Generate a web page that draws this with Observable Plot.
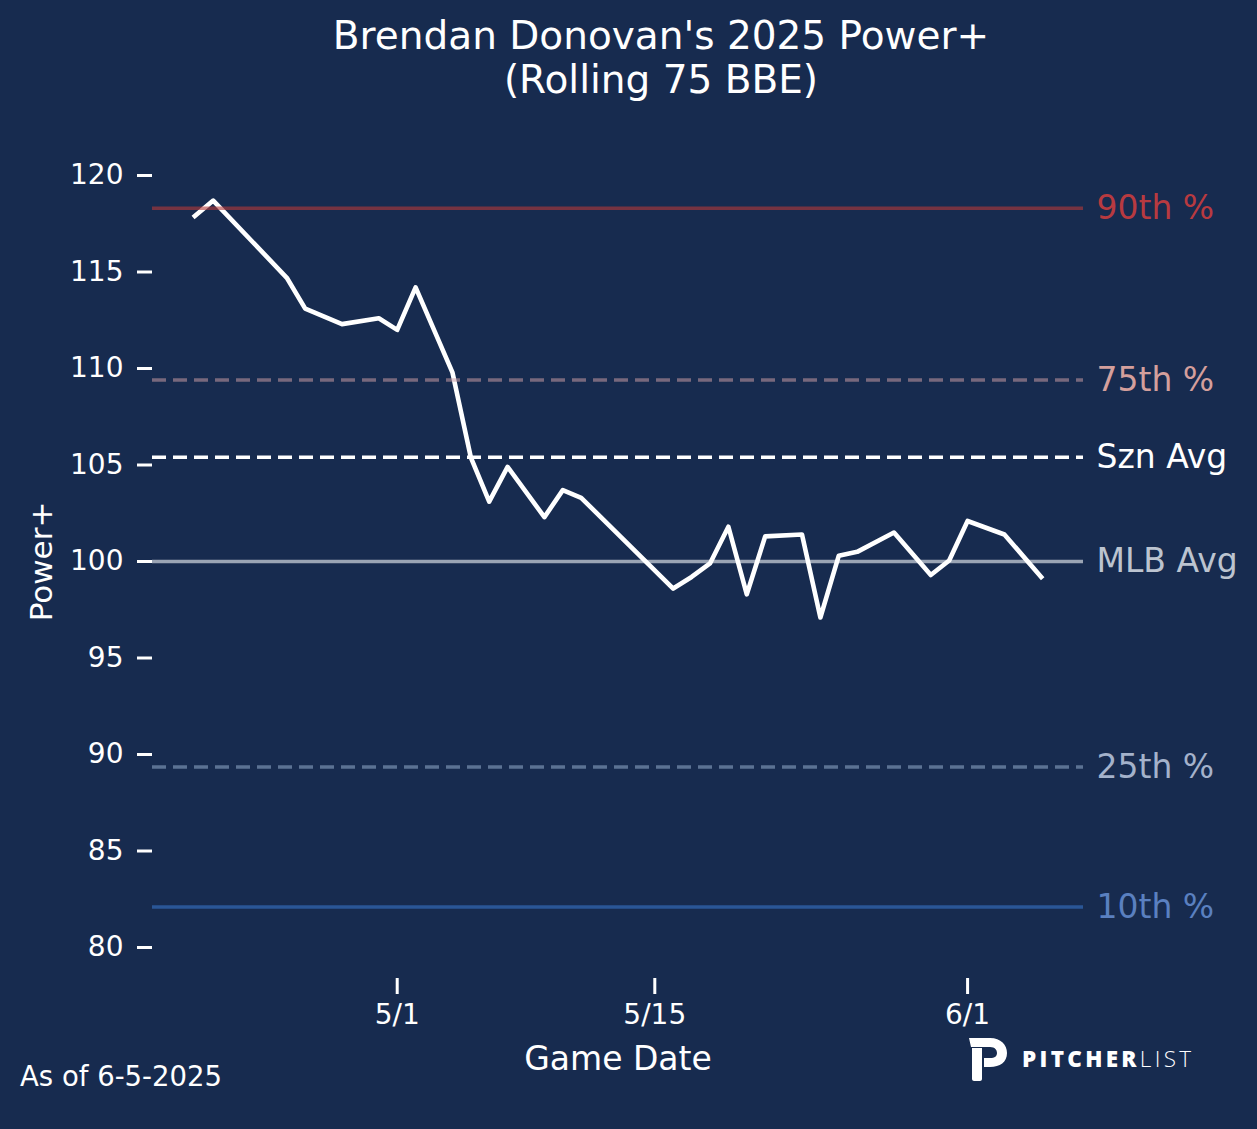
<!DOCTYPE html>
<html>
<head>
<meta charset="utf-8">
<script src="https://cdn.jsdelivr.net/npm/d3@7"></script>
<script src="https://cdn.jsdelivr.net/npm/@observablehq/plot@0.6"></script>
<style>
  html, body { margin: 0; padding: 0; background: #172b4f; }
  #wrap { position: relative; width: 1257px; height: 1129px; background: #172b4f; overflow: hidden; font-family: "DejaVu Sans", sans-serif; }
  #title { position: absolute; left: 161px; width: 1000px; top: 14px; text-align: center; color: #ffffff; font-size: 39px; line-height: 44px; }
  #head { height: 110px; }
  #asof { position: absolute; left: 20px; top: 1063px; color: #ffffff; font-size: 27.5px; line-height: 27.5px; }
  #logo { position: absolute; left: 968px; top: 1037px; }
  #brand { position: absolute; left: 1022px; top: 1048px; color: #ffffff; font-family: "Open Sans", sans-serif; font-size: 22.5px; line-height: 22px; letter-spacing: 3.3px; white-space: nowrap; }
</style>
</head>
<body>
<div id="wrap">
  <div id="head"></div>
  <div id="title">Brendan Donovan's 2025 Power+<br>(Rolling 75 BBE)</div>
  <div id="chart"></div>
  <div id="asof">As of 6-5-2025</div>
  <svg id="logo" width="42" height="46" viewBox="0 0 42 46">
    <path d="M1 1 H22 C33 1 39 8 39 16 C39 25 32 30 22 30 H16 V21 H22 C27 21 29 19 29 16 C29 13 27 10 22 10 H3 Z" fill="#ffffff"/>
    <path d="M4 11 H14 V42 C14 43 13 44 12 44 H6 C5 44 4 43 4 42 Z" fill="#ffffff"/>
  </svg>
  <div id="brand"><span style="font-weight:800">PITCHER</span><span style="font-weight:300">LIST</span></div>
</div>
<script>
// ---- data ----
const gameDates = [
  "2025-04-20","2025-04-21","2025-04-25","2025-04-26","2025-04-28","2025-04-30",
  "2025-05-01","2025-05-02","2025-05-04","2025-05-05","2025-05-06","2025-05-07",
  "2025-05-09","2025-05-10","2025-05-11","2025-05-16","2025-05-17","2025-05-18",
  "2025-05-19","2025-05-20","2025-05-21","2025-05-23","2025-05-24","2025-05-25",
  "2025-05-26","2025-05-28","2025-05-30","2025-05-31","2025-06-01","2025-06-03",
  "2025-06-05"
];
const powerPlus = [
  117.9, 118.7, 114.7, 113.1, 112.3, 112.6,
  112.0, 114.2, 109.8, 105.4, 103.1, 104.9,
  102.3, 103.7, 103.3, 98.6, 99.2, 99.9,
  101.8, 98.3, 101.3, 101.4, 97.1, 100.3,
  100.5, 101.5, 99.3, 100.05, 102.1, 101.4,
  99.2
];
const refLabels = ["90th %", "75th %", "Szn Avg", "MLB Avg", "25th %", "10th %"];
const refValues = [118.3, 109.4, 105.4, 100, 89.35, 82.1];
const yTicks = [80, 85, 90, 95, 100, 105, 110, 115, 120];
const xTickDates = ["2025-05-01", "2025-05-15", "2025-06-01"];

// ---- styles (not data) ----
const refStyle = {
  "90th %":  {stroke: "#b53838", opacity: 0.6, dash: null,   text: "#b83a40"},
  "75th %":  {stroke: "#c99aa4", opacity: 0.55, dash: "14,7", text: "#d49f9c"},
  "Szn Avg": {stroke: "#ffffff", opacity: 1,   dash: "14,7", text: "#ffffff"},
  "MLB Avg": {stroke: "#9aa4b4", opacity: 1,   dash: null,   text: "#bcc4d0"},
  "25th %":  {stroke: "#5b7293", opacity: 1,   dash: "14,7", text: "#a4b2cb"},
  "10th %":  {stroke: "#2a5696", opacity: 1,   dash: null,   text: "#5a80c0"}
};

const series = gameDates.map((d, i) => ({date: new Date(d), value: powerPlus[i]}));
const refs = refLabels.map((l, i) => ({label: l, value: refValues[i]}));

const first = d3.min(series, d => d.date), last = d3.max(series, d => d.date);
const pad = (last - first) * 0.05;

const ruleMark = (lab) => {
  const s = refStyle[lab];
  return Plot.ruleY(refs.filter(r => r.label === lab), {
    y: "value", stroke: s.stroke, strokeOpacity: s.opacity, strokeWidth: 3.5,
    strokeDasharray: s.dash
  });
};

const chart = Plot.plot({
  width: 1257,
  height: 1019,
  marginLeft: 152,
  marginRight: 174,
  marginTop: 34,
  marginBottom: 151,
  style: {background: "transparent", color: "#ffffff", fontFamily: "DejaVu Sans", overflow: "visible"},
  x: {type: "utc", domain: [new Date(+first - pad), new Date(+last + pad)]},
  y: {domain: [80, 120], range: [837, 65]},
  marks: [
    ruleMark("MLB Avg"),
    Plot.line(series, {x: "date", y: "value", stroke: "#ffffff", strokeWidth: 4.6, strokeLinecap: "square", strokeLinejoin: "round"}),
    ruleMark("90th %"),
    ruleMark("75th %"),
    ruleMark("Szn Avg"),
    ruleMark("25th %"),
    ruleMark("10th %"),
    Plot.text(refs, {
      y: "value", text: "label", frameAnchor: "right", dx: 13, textAnchor: "start",
      lineAnchor: "middle", fontSize: 33,
      fill: d => refStyle[d.label].text
    }),
    Plot.axisY({ticks: yTicks, anchor: "left", tickSize: 15, tickPadding: 14, fontSize: 28, strokeWidth: 3, label: null, tickFormat: d => String(d)}),
    Plot.axisX({ticks: xTickDates.map(d => new Date(d)), anchor: "bottom", tickSize: 16, tickPadding: 10, fontSize: 28, strokeWidth: 3, label: null, tickFormat: d3.utcFormat("%-m/%-d")}),
    Plot.text(["Power+"], {frameAnchor: "left", dx: -110, dy: 0, rotate: -90, fontSize: 31, text: d => d, fill: "#ffffff", lineAnchor: "middle", textAnchor: "middle"}),
    Plot.text(["Game Date"], {frameAnchor: "bottom", dy: 81, fontSize: 33, text: d => d, fill: "#ffffff", lineAnchor: "middle", textAnchor: "middle"})
  ]
});
document.getElementById("chart").appendChild(chart);
</script>
</body>
</html>
